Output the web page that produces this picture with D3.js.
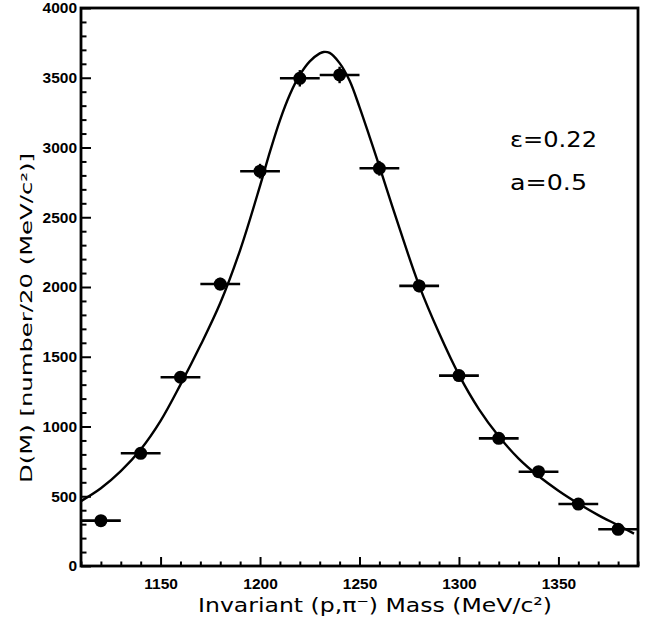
<!DOCTYPE html>
<html>
<head>
<meta charset="utf-8">
<script src="https://cdn.jsdelivr.net/npm/d3@7"></script>
<style>
  html, body { margin: 0; padding: 0; background: #fff; }
  svg { display: block; }
</style>
</head>
<body>
<svg id="chart" width="652" height="624"></svg>
<script>
// ---- data ----
const massBins   = [1120, 1140, 1160, 1180, 1200, 1220, 1240, 1260, 1280, 1300, 1320, 1340, 1360, 1380];
const counts     = [325, 808, 1353, 2021, 2830, 3496, 3520, 2851, 2008, 1365, 915, 676, 444, 263];
const countErrs  = [18, 28, 37, 45, 53, 59, 59, 53, 45, 37, 30, 26, 21, 16];
const binHalfWidth = 10;

const fitMass  = [1110, 1120, 1130, 1140, 1150, 1160, 1170, 1180, 1190, 1200, 1205, 1210, 1215, 1220, 1225, 1230, 1232, 1235, 1240, 1245, 1250, 1255, 1260, 1270, 1280, 1290, 1300, 1310, 1320, 1330, 1340, 1350, 1360, 1370, 1380, 1388];
const fitValue = [465, 557, 680, 835, 1040, 1300, 1580, 1885, 2265, 2725, 2970, 3195, 3380, 3520, 3617, 3675, 3685, 3678, 3605, 3480, 3290, 3080, 2865, 2425, 2010, 1670, 1370, 1125, 930, 770, 645, 540, 448, 365, 292, 232];

const xMajorTicks = [1150, 1200, 1250, 1300, 1350];
const yMajorTicks = [0, 500, 1000, 1500, 2000, 2500, 3000, 3500, 4000];
const xDomain = [1110, 1390];
const yDomain = [0, 4000];

const xLabel = "Invariant (p,\u03C0\u207B) Mass (MeV/c\u00B2)";
const yLabel = "D(M) [number/20 (MeV/c\u00B2)]";
const notes  = ["\u03B5=0.22", "a=0.5"];

// ---- layout ----
const L = 81, R = 638, T = 8, B = 566;
const svg = d3.select("#chart");
const x = d3.scaleLinear().domain(xDomain).range([L, R]);
const y = d3.scaleLinear().domain(yDomain).range([B, T]);

const tickFont = "'Liberation Sans', Arial, sans-serif";
const labelFont = "'DejaVu Sans', sans-serif";

// minor ticks
const xMinor = d3.range(xDomain[0], xDomain[1] + 0.1, 10).filter(v => !xMajorTicks.includes(v));
const yMinor = d3.range(yDomain[0], yDomain[1] + 0.1, 100).filter(v => !yMajorTicks.includes(v));

function styleAxis(g) {
  g.select(".domain").remove();
  g.selectAll(".tick line").attr("stroke", "#000").attr("stroke-width", 2);
  g.selectAll(".tick text").attr("fill", "#000")
    .style("font-family", tickFont).style("font-size", "15.5px").style("font-weight", "bold");
}

svg.append("g").attr("transform", `translate(0,${B})`)
  .call(d3.axisBottom(x).tickValues(xMinor).tickSize(-4.5).tickFormat(""))
  .call(styleAxis);
svg.append("g").attr("transform", `translate(0,${B})`)
  .call(d3.axisBottom(x).tickValues(xMajorTicks).tickSize(-9).tickPadding(0).tickFormat(d3.format("d")))
  .call(styleAxis)
  .call(g => g.selectAll(".tick text").attr("y", 23).attr("dy", null));

svg.append("g").attr("transform", `translate(${L},0)`)
  .call(d3.axisLeft(y).tickValues(yMinor).tickSize(-5.5).tickFormat(""))
  .call(styleAxis);
svg.append("g").attr("transform", `translate(${L},0)`)
  .call(d3.axisLeft(y).tickValues(yMajorTicks).tickSize(-10).tickFormat(d3.format("d")))
  .call(styleAxis)
  .call(g => g.selectAll(".tick text").attr("x", -4));

// frame
svg.append("rect")
  .attr("x", L).attr("y", T).attr("width", R - L).attr("height", B - T)
  .attr("fill", "none").attr("stroke", "#000").attr("stroke-width", 2.8);

// fit curve
const fitData = fitMass.map((m, i) => [m, fitValue[i]]);
svg.append("path")
  .datum(fitData)
  .attr("fill", "none").attr("stroke", "#000").attr("stroke-width", 2.4)
  .attr("d", d3.line().x(d => x(d[0])).y(d => y(d[1])).curve(d3.curveCatmullRom.alpha(0.5)));

// data points
const pts = massBins.map((m, i) => ({ m, v: counts[i], e: countErrs[i] }));
const pg = svg.append("g");
pg.selectAll("line.h").data(pts).join("line").attr("class", "h")
  .attr("x1", d => x(d.m - binHalfWidth)).attr("x2", d => x(Math.min(d.m + binHalfWidth, xDomain[1])))
  .attr("y1", d => y(d.v)).attr("y2", d => y(d.v))
  .attr("stroke", "#000").attr("stroke-width", 2.6);
pg.selectAll("line.v").data(pts).join("line").attr("class", "v")
  .attr("x1", d => x(d.m)).attr("x2", d => x(d.m))
  .attr("y1", d => y(d.v - d.e)).attr("y2", d => y(d.v + d.e))
  .attr("stroke", "#000").attr("stroke-width", 2.4);
pg.selectAll("circle").data(pts).join("circle")
  .attr("cx", d => x(d.m)).attr("cy", d => y(d.v)).attr("r", 6.5).attr("fill", "#000");

// axis titles
svg.append("text")
  .attr("x", 375).attr("y", 612).attr("text-anchor", "middle")
  .style("font-family", labelFont).style("font-size", "20px")
  .attr("textLength", 354).attr("lengthAdjust", "spacingAndGlyphs")
  .text(xLabel);

svg.append("text")
  .attr("transform", "translate(32,318) rotate(-90)")
  .attr("text-anchor", "middle")
  .style("font-family", labelFont).style("font-size", "16px")
  .attr("textLength", 330).attr("lengthAdjust", "spacingAndGlyphs")
  .text(yLabel);

// annotations
const noteLengths = [87, 77];
svg.selectAll("text.note").data(notes).join("text").attr("class", "note")
  .attr("x", 510).attr("y", (d, i) => 147 + i * 43)
  .style("font-family", labelFont).style("font-size", "22px")
  .attr("textLength", (d, i) => noteLengths[i]).attr("lengthAdjust", "spacingAndGlyphs")
  .text(d => d);
</script>
</body>
</html>
